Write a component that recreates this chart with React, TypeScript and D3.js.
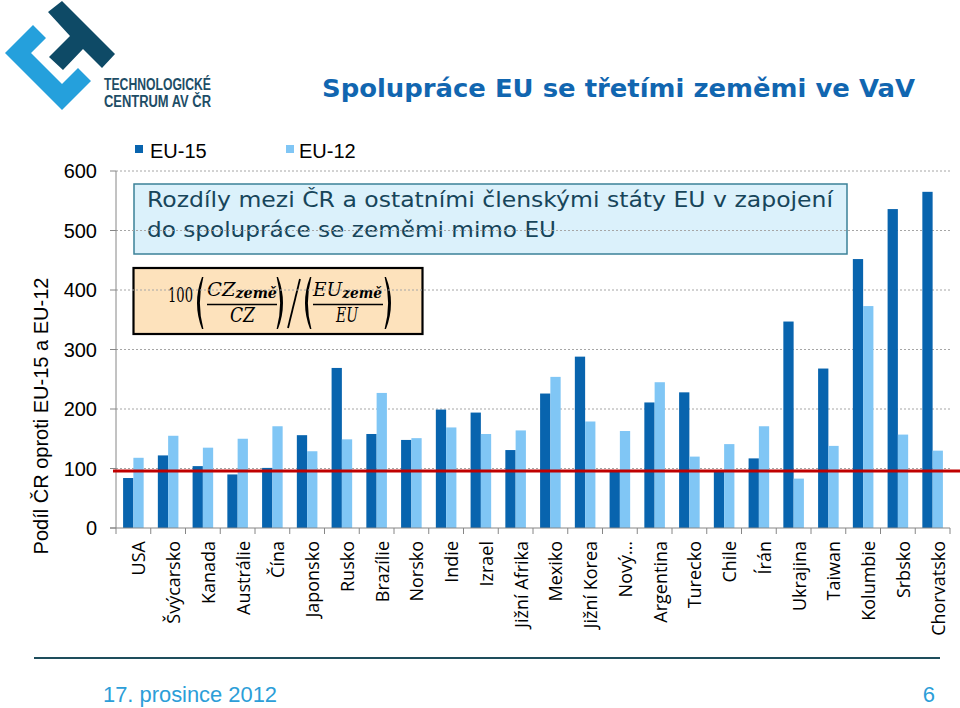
import React from "react";
import * as d3 from "d3";

// data
const categories = [
  "USA", "Švýcarsko", "Kanada", "Austrálie", "Čína", "Japonsko", "Rusko", "Brazílie",
  "Norsko", "Indie", "Izrael", "Jižní Afrika", "Mexiko", "Jižní Korea", "Nový…", "Argentina",
  "Turecko", "Chile", "Írán", "Ukrajina", "Taiwan", "Kolumbie", "Srbsko", "Chorvatsko",
];
const eu15 = [84, 122, 104, 90, 101, 156, 269, 158, 148, 199, 194, 131, 226, 288, 95, 211, 228, 95, 117, 347, 268, 452, 536, 565];
const eu12 = [118, 155, 135, 150, 171, 129, 149, 227, 151, 169, 158, 164, 254, 179, 163, 245, 120, 141, 171, 83, 138, 373, 157, 130];
const seriesNames = ["EU-15", "EU-12"];
const seriesColors = ["#0864ae", "#80c6f5"];
const yTicks = [0, 100, 200, 300, 400, 500, 600];
const referenceValue = 96;

const logoDark = [[48, 12], [62, 1], [115, 54], [102, 68], [83, 49], [63, 70], [49, 57], [70, 36]];
const logoLight = [[33, 25], [46, 38], [31, 53], [62, 84], [78, 68], [91, 81], [62, 110], [5, 53]];

// paren as a filled crescent, dir 1 = "(" and -1 = ")"
function paren(x: number, top: number, bottom: number, dir: number) {
  const mid = (top + bottom) / 2;
  const bulge = 10 * dir;
  return `M${x},${top} Q${x - bulge},${mid} ${x},${bottom} L${x + 1.4 * dir},${bottom} Q${x - bulge + 4.4 * dir},${mid} ${x + 1.4 * dir},${top} Z`;
}

export default function App() {
  const width = 960;
  const height = 708;
  const left = 116;
  const right = 950;
  const bottom = 528;
  const top = 171;

  //scales
  const x = d3.scaleBand().domain(categories).range([left, right]).padding(0);
  const xSub = d3.scaleBand().domain(seriesNames).range([0, x.bandwidth()]).paddingInner(0).paddingOuter(0.69);
  const y = d3.scaleLinear().domain([0, 600]).range([bottom, top]);
  const series = [eu15, eu12];

  const axisColor = "#868686";
  const line = d3.line();

  const bars = categories.map((c, i) =>
    series.map((s, k) => (
      <rect
        key={c + k}
        x={(x(c) as number) + (xSub(seriesNames[k]) as number)}
        y={y(s[i])}
        width={xSub.bandwidth()}
        height={y(0) - y(s[i])}
        fill={seriesColors[k]}
      />
    ))
  );

  const serif = "'DejaVu Serif', 'Liberation Serif', serif";
  const fracBarY = 304.5;
  const fit = "spacingAndGlyphs";

  return (
    <svg width={width} height={height} style={{ position: "absolute", left: 0, top: 0, display: "block", background: "#fff" }}>
      {/* logo */}
      <path d={line(logoLight as [number, number][]) + "Z"} fill="#25a0dc" />
      <path d={line(logoDark as [number, number][]) + "Z"} fill="#0e4a66" />
      <g fontFamily="'Liberation Sans Narrow', 'Liberation Sans', sans-serif" fontWeight="bold" fontSize={16} fill="#1d4d66">
        <text x={104} y={90} textLength={107} lengthAdjust={fit}>TECHNOLOGICKÉ</text>
        <text x={104} y={107} textLength={107} lengthAdjust={fit}>CENTRUM AV ČR</text>
      </g>

      {/* title */}
      <text x={322} y={97} fontFamily="'DejaVu Sans', Verdana, sans-serif" fontWeight="bold" fontSize={24} fill="#1166b0" textLength={593} lengthAdjust={fit}>
        Spolupráce EU se třetími zeměmi ve VaV
      </text>

      {/* legend */}
      {seriesNames.map((n, k) => (
        <g key={n}>
          <rect x={135 + k * 151} y={145} width={8} height={8} fill={seriesColors[k]} />
          <text x={150 + k * 149} y={158} fontFamily="'Liberation Sans', Arial, sans-serif" fontSize={20} fill="#000">{n}</text>
        </g>
      ))}

      {/* annotation boxes (under the gridlines) */}
      <rect x={134} y={184} width={713} height={70} fill="#dbf1fb" stroke="#3b8198" strokeWidth={1.5} />
      <g fontFamily="'DejaVu Sans', Verdana, sans-serif" fontSize={21} fill="#17455a">
        <text x={147} y={207} textLength={686} lengthAdjust={fit}>Rozdíly mezi ČR a ostatními členskými státy EU v zapojení</text>
        <text x={147} y={237} textLength={409} lengthAdjust={fit}>do spolupráce se zeměmi mimo EU</text>
      </g>
      <rect x={133.5} y={268} width={289} height={66} fill="#fde2bc" stroke="#000" strokeWidth={2.2} />
      <g fontFamily={serif} fill="#000">
        <text x={168} y={302} fontSize={21} textLength={25} lengthAdjust={fit}>100</text>
        <path d={paren(202, 277, 329, 1)} />
        <text x={207} y={296} fontSize={19} fontStyle="italic" textLength={70} lengthAdjust={fit}>
          CZ<tspan fontSize={14} fontWeight="bold" dy={2}>země</tspan>
        </text>
        <line x1={207} x2={277} y1={fracBarY} y2={fracBarY} stroke="#000" strokeWidth={1.3} />
        <text x={230} y={322} fontSize={20} fontStyle="italic" textLength={25} lengthAdjust={fit}>CZ</text>
        <path d={paren(278, 277, 329, -1)} />
        <line x1={300} y1={279} x2={288} y2={328} stroke="#000" strokeWidth={1.8} />
        <path d={paren(310, 277, 329, 1)} />
        <text x={313} y={296} fontSize={19} fontStyle="italic" textLength={69} lengthAdjust={fit}>
          EU<tspan fontSize={14} fontWeight="bold" dy={2}>země</tspan>
        </text>
        <line x1={313} x2={383} y1={fracBarY} y2={fracBarY} stroke="#000" strokeWidth={1.3} />
        <text x={336} y={322} fontSize={20} fontStyle="italic" textLength={22} lengthAdjust={fit}>EU</text>
        <path d={paren(386, 277, 329, -1)} />
      </g>

      {/* gridlines */}
      {yTicks.filter((t) => t > 0).map((t) => (
        <line key={t} x1={left} x2={right} y1={y(t)} y2={y(t)} stroke="#a6a6a6" strokeWidth={1} strokeDasharray="2,2" />
      ))}

      {/* bars */}
      {bars}

      {/* axes */}
      <line x1={left} x2={left} y1={top} y2={bottom} stroke={axisColor} />
      <line x1={left - 6} x2={right} y1={bottom} y2={bottom} stroke={axisColor} />
      {yTicks.map((t) => (
        <g key={t}>
          <line x1={left - 6} x2={left} y1={y(t)} y2={y(t)} stroke={axisColor} />
          <text x={97} y={y(t)} dy="0.36em" textAnchor="end" fontFamily="'Liberation Sans', Arial, sans-serif" fontSize={20} fill="#000">{t}</text>
        </g>
      ))}
      {categories.concat([""]).map((c, i) => {
        const tx = left + i * x.step();
        return <line key={"t" + i} x1={tx} x2={tx} y1={bottom} y2={bottom + 6} stroke={axisColor} />;
      })}
      {categories.map((c) => {
        const cx = (x(c) as number) + x.bandwidth() / 2 + 12;
        return (
          <text key={"l" + c} transform={`translate(${cx},541) rotate(-90)`} textAnchor="end" fontFamily="'Open Sans', 'Noto Sans', sans-serif" fontSize={18} fill="#000">
            {c}
          </text>
        );
      })}
      <text transform="translate(48,416) rotate(-90)" textAnchor="middle" fontFamily="'Liberation Sans', Arial, sans-serif" fontSize={20} fill="#000">
        Podíl ČR oproti EU-15 a EU-12
      </text>

      {/* reference line */}
      <line x1={113} x2={960} y1={y(referenceValue)} y2={y(referenceValue)} stroke="#c00000" strokeWidth={3} />

      {/* footer */}
      <line x1={34} x2={940} y1={658} y2={658} stroke="#1e4d5c" strokeWidth={2} />
      <text x={103} y={702} fontFamily="'Liberation Sans', Arial, sans-serif" fontSize={22} fill="#2c9ed8" textLength={174} lengthAdjust={fit}>17. prosince 2012</text>
      <text x={935} y={702} textAnchor="end" fontFamily="'Liberation Sans', Arial, sans-serif" fontSize={22} fill="#2c9ed8">6</text>
    </svg>
  );
}
